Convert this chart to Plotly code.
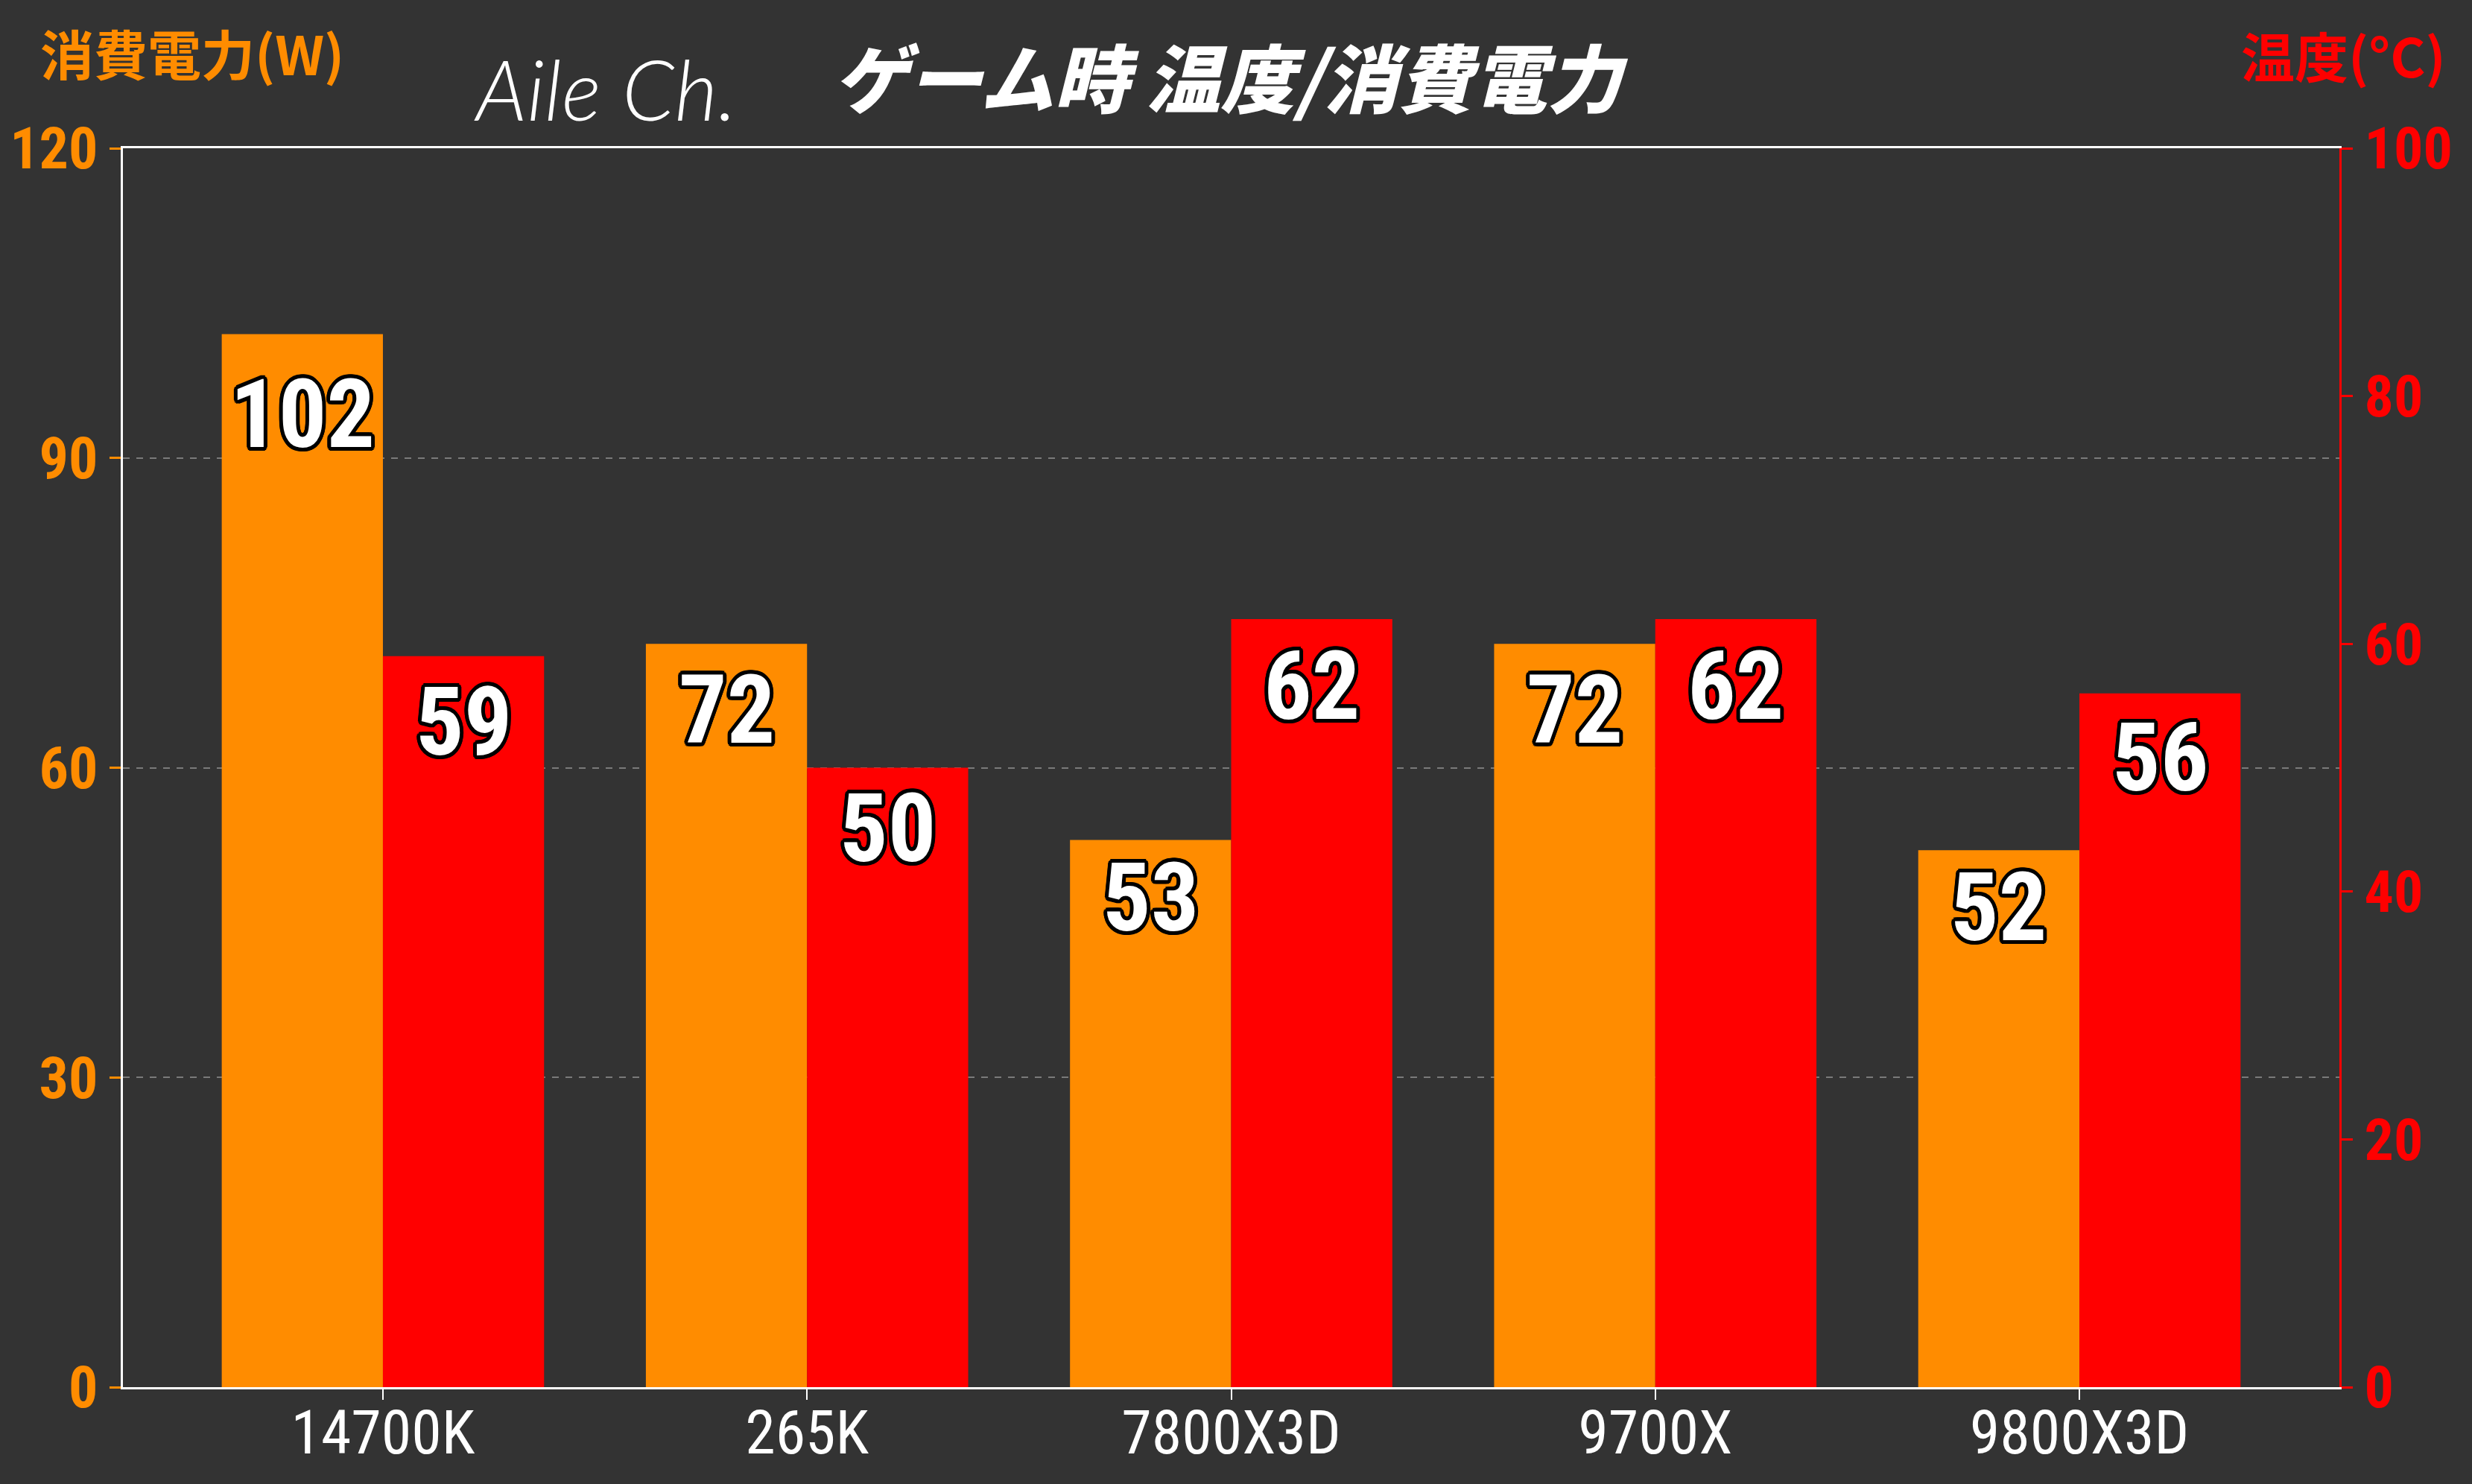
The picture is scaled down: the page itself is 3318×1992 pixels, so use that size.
import math
import plotly.graph_objects as go

# ---- data ----
categories = ["14700K", "265K", "7800X3D", "9700X", "9800X3D"]
power_w = [102, 72, 53, 72, 52]
temp_c = [59, 50, 62, 62, 56]
power_ticks = [0, 30, 60, 90, 120]
temp_ticks = [0, 20, 40, 60, 80, 100]

title_text = "ゲーム時 温度/消費電力"
left_title = "消費電力(W)"
right_title = "温度(°C)"
watermark = "Aile Ch."

# ---- style ----
BG = "#333333"
ORANGE = "#FF8C00"
RED = "#FF0000"
BAR_W = 0.38
NUM_FONT = "Liberation Sans Narrow, Roboto Condensed, Roboto, sans-serif"
CJK_FONT = "Noto Sans CJK JP"

# outline via text-shadow
r = 5
outline = ", ".join(
    f"{r*math.cos(a*math.pi/8):.1f}px {r*math.sin(a*math.pi/8):.1f}px 0 #000"
    for a in range(16)
)

fig = go.Figure()
fig.add_trace(go.Bar(
    x=categories, y=power_w, name="消費電力", marker_color=ORANGE,
    marker_line_width=0, width=BAR_W, offset=-BAR_W, yaxis="y",
))
fig.add_trace(go.Bar(
    x=categories, y=temp_c, name="温度", marker_color=RED,
    marker_line_width=0, width=BAR_W, offset=0, yaxis="y2",
))

annotations = []
lab_font = dict(family=NUM_FONT, size=128, color="white", weight="bold", shadow=outline)
for i, v in enumerate(power_w):
    annotations.append(dict(x=i - BAR_W / 2, y=v * 0.955, xref="x", yref="y",
                            text=str(v), showarrow=False, yanchor="middle",
                            yshift=-44, font=lab_font))
for i, v in enumerate(temp_c):
    annotations.append(dict(x=i + BAR_W / 2, y=v * 0.955, xref="x", yref="y2",
                            text=str(v), showarrow=False, yanchor="middle",
                            yshift=-44, font=lab_font))

W, H = 3318, 1992
L, R, T, B = 165, 178, 199, 130

def paper_note(text, px, py, font):
    # px, py: pixel position of text centre measured from the top-left corner
    return dict(text=text, x=(px - L) / (W - L - R), y=(H - py - B) / (H - T - B),
                xref="paper", yref="paper", xanchor="center", yanchor="middle",
                showarrow=False, font=font)

annotations += [
    paper_note(left_title, 258, 70,
               dict(family=CJK_FONT, size=72, color=ORANGE, weight="bold")),
    paper_note(right_title, 3145, 72,
               dict(family=CJK_FONT, size=72, color=RED, weight="bold")),
    paper_note(title_text, 1651, 100,
               dict(family=CJK_FONT, size=100, color="white", weight=900, style="italic")),
    paper_note(watermark, 812, 118,
               dict(family="Lato", size=112, color="white", weight=300, style="italic")),
]

fig.update_layout(
    width=W, height=H,
    margin=dict(l=L, r=R, t=T, b=B, pad=0, autoexpand=False),
    paper_bgcolor=BG, plot_bgcolor=BG,
    showlegend=False,
    bargap=0.24,
    xaxis=dict(
        type="category", range=[-0.613, len(categories) - 1 + 0.613],
        showline=True, linecolor="white", linewidth=3, mirror=True,
        ticks="outside", tickcolor="white", ticklen=14, tickwidth=2,
        ticklabelstandoff=-26,
        tickfont=dict(family=NUM_FONT, size=82, color="white"),
        showgrid=False, zeroline=False, automargin=False,
    ),
    yaxis=dict(
        range=[0, 120], tickvals=power_ticks,
        showline=True, linecolor="white", linewidth=3,
        ticks="outside", tickcolor=ORANGE, ticklen=15, tickwidth=3,
        tickfont=dict(family=NUM_FONT, size=78, color=ORANGE, weight="bold"),
        showgrid=True, gridcolor="#7a7a7a", gridwidth=2, griddash="dash",
        zeroline=False, automargin=False,
    ),
    yaxis2=dict(
        range=[0, 100], tickvals=temp_ticks, overlaying="y", side="right",
        showline=True, linecolor=RED, linewidth=3,
        ticks="outside", tickcolor=RED, ticklen=15, tickwidth=3,
        tickfont=dict(family=NUM_FONT, size=78, color=RED, weight="bold"),
        showgrid=False, zeroline=False, automargin=False,
    ),
    annotations=annotations,
)

fig.write_html("out.html")
